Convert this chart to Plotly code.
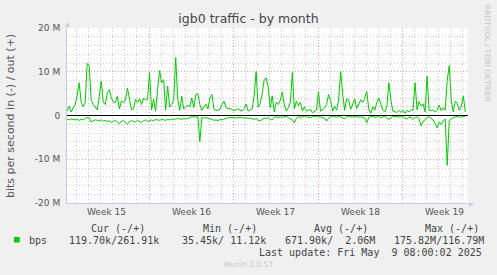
import plotly.graph_objects as go
import pandas as pd

# ---- data (values in Mbit/s, 4-hour samples) ----
out_mbps = [
    1.0, 2.1, 0.8, 1.5, 2.5, 4.5, 7.5, 3.0, 2.0, 3.0,
    11.9, 11.3, 3.5, 2.5, 2.0, 1.3, 4.4, 7.9, 3.0, 2.5,
    5.2, 5.9, 4.0, 3.0, 3.0, 4.4, 1.5, 3.3, 3.0, 3.5,
    6.3, 4.0, 1.3, 1.5, 3.7, 3.0, 3.9, 2.5, 4.0, 3.5,
    3.7, 9.8, 1.3, 3.7, 1.0, 6.0, 10.3, 7.5, 8.2, 1.2,
    6.7, 1.9, 2.5, 3.5, 13.2, 3.7, 1.2, 4.4, 1.5, 1.9,
    2.4, 2.0, 4.0, 1.8, 4.8, 5.0, 2.5, 1.2, 2.0, 2.6,
    1.5, 4.0, 4.8, 1.5, 1.1, 1.3, 1.4, 2.5, 3.3, 1.8,
    1.5, 1.6, 1.4, 1.1, 1.4, 1.5, 1.2, 1.0, 1.6, 2.6,
    1.0, 1.2, 1.5, 4.4, 10.1, 1.9, 2.8, 5.0, 8.2, 8.6,
    6.5, 1.8, 4.5, 0.8, 3.0, 2.5, 3.5, 5.4, 2.5, 1.0,
    1.8, 3.0, 9.8, 1.5, 3.3, 2.2, 3.0, 1.0, 2.0, 1.0,
    1.2, 1.4, 0.6, 1.0, 1.3, 5.4, 1.0, 1.3, 1.7, 2.5,
    4.8, 3.5, 1.0, 2.2, 1.2, 3.5, 10.1, 5.0, 1.2, 3.8,
    3.6, 1.4, 2.5, 3.8, 1.6, 2.6, 3.6, 3.0, 4.0, 5.5,
    1.5, 0.5, 2.0, 1.2, 3.0, 4.0, 2.6, 1.2, 0.8, 2.0,
    7.5, 3.5, 1.0, 0.8, 0.7, 1.2, 0.7, 1.2, 0.5, 1.2,
    0.8, 1.3, 1.2, 7.5, 1.3, 3.2, 2.2, 2.7, 0.8, 9.0,
    1.2, 1.1, 1.3, 0.8, 1.2, 2.4, 1.1, 1.8, 1.2, 8.0,
    11.4, 3.5, 0.8, 3.3, 2.8, 1.2, 2.0, 4.5, 0.8,
]
in_mbps = [
    0.9, 1.0, 0.8, 0.9, 1.0, 0.9, 1.1, 0.9, 1.0, 0.7,
    0.4, 0.6, 1.5, 1.2, 1.0, 1.1, 1.2, 1.0, 1.3, 1.1,
    1.4, 1.2, 1.6, 1.3, 1.1, 1.5, 1.9, 1.3, 1.2, 1.6,
    2.0, 1.4, 1.2, 1.3, 1.5, 1.1, 1.3, 1.6, 1.2, 1.0,
    1.4, 1.1, 1.0, 1.2, 0.9, 1.0, 1.1, 0.9, 1.0, 1.1,
    0.9, 1.0, 0.8, 0.9, 0.8, 0.7, 0.8, 0.9, 0.7, 0.8,
    0.7, 0.5, 0.3, 0.3, 0.4, 0.3, 6.0, 0.5, 0.6, 0.5,
    0.6, 0.7, 0.9, 1.1, 1.0, 1.2, 0.9, 1.0, 0.8, 0.6,
    0.5, 0.5, 0.4, 0.5, 0.6, 0.5, 0.4, 0.5, 0.6, 0.5,
    0.7, 0.6, 0.8, 0.9, 0.7, 1.1, 1.2, 0.8, 0.6, 0.7,
    0.5, 0.9, 1.0, 0.4, 0.3, 0.5, 0.3, 0.4, 0.3, 0.2,
    0.5, 0.8, 1.0, 1.7, 0.6, 0.3, 0.4, 0.3, 0.2, 0.3,
    0.4, 0.5, 0.3, 0.2, 0.3, 0.2, 0.3, 0.4, 0.6, 1.3,
    0.6, 0.3, 0.2, 0.3, 0.4, 0.2, 0.3, 0.5, 0.8, 0.3,
    0.2, 0.3, 0.4, 0.2, 0.3, 0.4, 0.3, 0.5, 0.6, 1.7,
    0.4, 0.3, 0.2, 0.4, 0.3, 0.2, 0.5, 0.3, 0.2, 0.6,
    0.9, 0.5, 0.2, 0.3, 0.2, 0.4, 0.3, 0.2, 0.6, 0.8,
    0.3, 0.5, 0.9, 0.4, 0.3, 0.7, 2.4, 1.3, 1.0, 0.4,
    0.3, 0.6, 1.0, 1.8, 2.8, 1.5, 2.0, 1.2, 0.8, 11.4,
    1.2, 0.8, 0.5, 0.3, 0.2, 0.4, 0.3, 0.2, 0.3,
]
start_time = "2025-04-06 05:00"
week_bounds = ["2025-04-13", "2025-04-20", "2025-04-27", "2025-05-04"]
week_mids = ["2025-04-09 12:00", "2025-04-16 12:00", "2025-04-23 12:00",
             "2025-04-30 12:00", "2025-05-07 12:00"]
week_labels = ["Week 15", "Week 16", "Week 17", "Week 18", "Week 19"]
y_tick_vals = [-20e6, -10e6, 0, 10e6, 20e6]
y_tick_text = ["-20 M", "-10 M", "0", "10 M", "20 M"]
legend_headers = ["Cur (-/+)", "Min (-/+)", "Avg (-/+)", "Max (-/+)"]
legend_values = ["119.70k/261.91k", "35.45k/ 11.12k", "671.90k/  2.06M", "175.82M/116.79M"]
series_name = "bps"
last_update = "Last update: Fri May  9 08:00:02 2025"

n = min(len(out_mbps), len(in_mbps))
times = pd.date_range(start_time, periods=n, freq="4h")

W, H = 497, 275
L, R, T, B = 67, 29, 28, 72
PW, PH = W - L - R, H - T - B


def px(xp):
    return (xp - L) / PW


def py(yp):
    return (H - B - yp) / PH


GREEN = "#00cc00"
MONO = "DejaVu Sans Mono"
SANS = "DejaVu Sans"
TXT = "#444444"

fig = go.Figure()
fig.add_trace(go.Scatter(x=times, y=[v * 1e6 for v in out_mbps[:n]], mode="lines",
                         line=dict(color=GREEN, width=1), showlegend=False, hoverinfo="skip"))
fig.add_trace(go.Scatter(x=times, y=[-v * 1e6 for v in in_mbps[:n]], mode="lines",
                         line=dict(color=GREEN, width=1), showlegend=False, hoverinfo="skip"))

annotations = []
# week labels
for xm, lab in zip(week_mids, week_labels):
    annotations.append(dict(x=xm, xref="x", y=py(212), yref="paper", text=lab,
                            showarrow=False, xanchor="center", yanchor="middle",
                            font=dict(family=SANS, size=9, color="#555555")))
# y-axis title
annotations.append(dict(x=px(10), y=py(116), xref="paper", yref="paper",
                        text="bits per second in (-) / out (+)", textangle=-90,
                        showarrow=False, xanchor="center", yanchor="middle",
                        font=dict(family=SANS, size=11, color="#555555")))
# right side credit
annotations.append(dict(x=px(487.5), y=py(53.5), xref="paper", yref="paper",
                        text="RRDTOOL / TOBI OETIKER", textangle=90,
                        showarrow=False, xanchor="center", yanchor="middle",
                        font=dict(family=SANS, size=7.5, color="#c4c4c4")))
# axis arrows
annotations.append(dict(x=px(67), y=py(24), xref="paper", yref="paper", text="▲",
                        showarrow=False, xanchor="center", yanchor="middle",
                        font=dict(family=SANS, size=6, color="#c8c8f4")))
annotations.append(dict(x=px(471), y=py(203), xref="paper", yref="paper", text="▶",
                        showarrow=False, xanchor="center", yanchor="middle",
                        font=dict(family=SANS, size=6, color="#c8c8f4")))


def mono(s):
    return s.replace(" ", "\u00a0")


header_x = [89.3, 201, 312.3, 422.7]
value_x = [66.7, 180.3, 283.3, 391.7]
for xh, t in zip(header_x, legend_headers):
    annotations.append(dict(x=px(xh), y=py(228), xref="paper", yref="paper", text=mono(t),
                            showarrow=False, xanchor="left", yanchor="middle",
                            font=dict(family=MONO, size=10, color=TXT)))
for xv, t in zip(value_x, legend_values):
    annotations.append(dict(x=px(xv), y=py(240), xref="paper", yref="paper", text=mono(t),
                            showarrow=False, xanchor="left", yanchor="middle",
                            font=dict(family=MONO, size=10, color=TXT)))
annotations.append(dict(x=px(26.7), y=py(240), xref="paper", yref="paper", text=series_name,
                        showarrow=False, xanchor="left", yanchor="middle",
                        font=dict(family=MONO, size=10, color=TXT)))
annotations.append(dict(x=px(484), y=py(252), xref="paper", yref="paper", text=mono(last_update),
                        showarrow=False, xanchor="right", yanchor="middle",
                        font=dict(family=MONO, size=10, color=TXT)))
annotations.append(dict(x=px(248), y=py(264), xref="paper", yref="paper", text="Munin 2.0.57",
                        showarrow=False, xanchor="center", yanchor="middle",
                        font=dict(family=SANS, size=7.5, color="#c8c8c8")))

shapes = [dict(type="rect", xref="paper", yref="paper", x0=px(14), x1=px(19.7),
               y0=py(242.5), y1=py(237), fillcolor=GREEN, line=dict(width=0))]

fig.update_layout(
    width=W, height=H,
    margin=dict(l=L, r=R, t=T, b=B, pad=0),
    paper_bgcolor="#f0f0f0", plot_bgcolor="#ffffff",
    title=dict(text="igb0 traffic - by month", x=0.5, xref="container", xanchor="center",
               y=1 - 18.5 / H, yref="container", yanchor="middle",
               font=dict(family=SANS, size=12.5, color="#444444")),
    showlegend=False,
    annotations=annotations,
    shapes=shapes,
    xaxis=dict(
        type="date",
        range=["2025-04-06 04:48", "2025-05-09 10:20"],
        tickmode="array", tickvals=week_bounds, showticklabels=False, ticks="",
        showgrid=True, gridcolor="#eaa0a0", griddash="1px,2px", gridwidth=1,
        minor=dict(tickmode="linear", tick0="2025-04-06", dtick=86400000,
                   showgrid=True, gridcolor="#cccccc", griddash="1px,2px", gridwidth=1),
        showline=True, linecolor="#c8c8f4", linewidth=1,
        zeroline=False, fixedrange=True,
    ),
    yaxis=dict(
        range=[-20e6, 20e6],
        tickmode="array", tickvals=y_tick_vals, ticktext=y_tick_text,
        ticks="outside", ticklen=4, tickcolor="rgba(0,0,0,0)",
        tickfont=dict(family=SANS, size=9, color="#555555"),
        showgrid=True, gridcolor="#eaa0a0", griddash="1px,2px", gridwidth=1,
        minor=dict(tickmode="linear", tick0=0, dtick=2e6,
                   showgrid=True, gridcolor="#cccccc", griddash="1px,2px", gridwidth=1),
        zeroline=True, zerolinecolor="#000000", zerolinewidth=1,
        showline=True, linecolor="#c8c8f4", linewidth=1, fixedrange=True,
    ),
)

fig.write_html("out.html")
